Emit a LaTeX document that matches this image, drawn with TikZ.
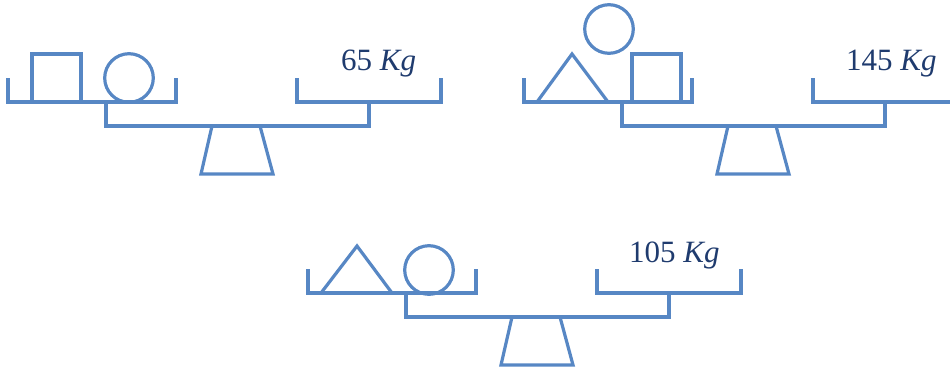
\documentclass[tikz,border=0pt]{standalone}
\usepackage{fontspec}
\setmainfont{Liberation Serif}
\definecolor{lineblue}{HTML}{5787C4}
\definecolor{textnavy}{HTML}{1F3B6E}
\tikzset{
  shp/.style={draw=lineblue, line width=3.2pt, line join=miter},
  wt/.style={font=\fontsize{31}{37}\selectfont, text=textnavy, inner sep=0pt, anchor=base west}
}
\newcommand{\drawbalance}{%
  \draw[shp] (8,78) -- (8,102) -- (176,102) -- (176,78);
  \draw[shp] (297,78) -- (297,102) -- (441,102) -- (441,78);
  \draw[shp] (106,102) -- (106,126) -- (369,126) -- (369,102);
  \draw[shp] (212,126) -- (201,174) -- (273,174) -- (260,126) -- cycle;
}
\begin{document}
\begin{tikzpicture}[x=1pt,y=-1pt]
\useasboundingbox (0,0) rectangle (950,367);
\clip (0,0) rectangle (950,367);
% scale 1
\begin{scope}
  \drawbalance
  \draw[shp] (32,54) rectangle (81,102);
  \draw[shp] (129,78) circle[radius=24.3];
  \node[wt] (w1) at (341,70) {65 \textit{Kg}};
\end{scope}
% scale 2
\begin{scope}[shift={(516,0)}]
  \drawbalance
\end{scope}
\draw[shp] (537,102) -- (572,54) -- (608,102);
\draw[shp] (632,54) rectangle (681,102);
\draw[shp] (609,29) circle[radius=24.3];
\node[wt] (w2) at (846,70) {145 \textit{Kg}};
% scale 3
\begin{scope}[shift={(300,191)}]
  \drawbalance
\end{scope}
\draw[shp] (321,293) -- (357,246) -- (392,293);
\draw[shp] (429,270) circle[radius=24.3];
\node[wt] (w3) at (629,262) {105 \textit{Kg}};
\end{tikzpicture}
\end{document}
